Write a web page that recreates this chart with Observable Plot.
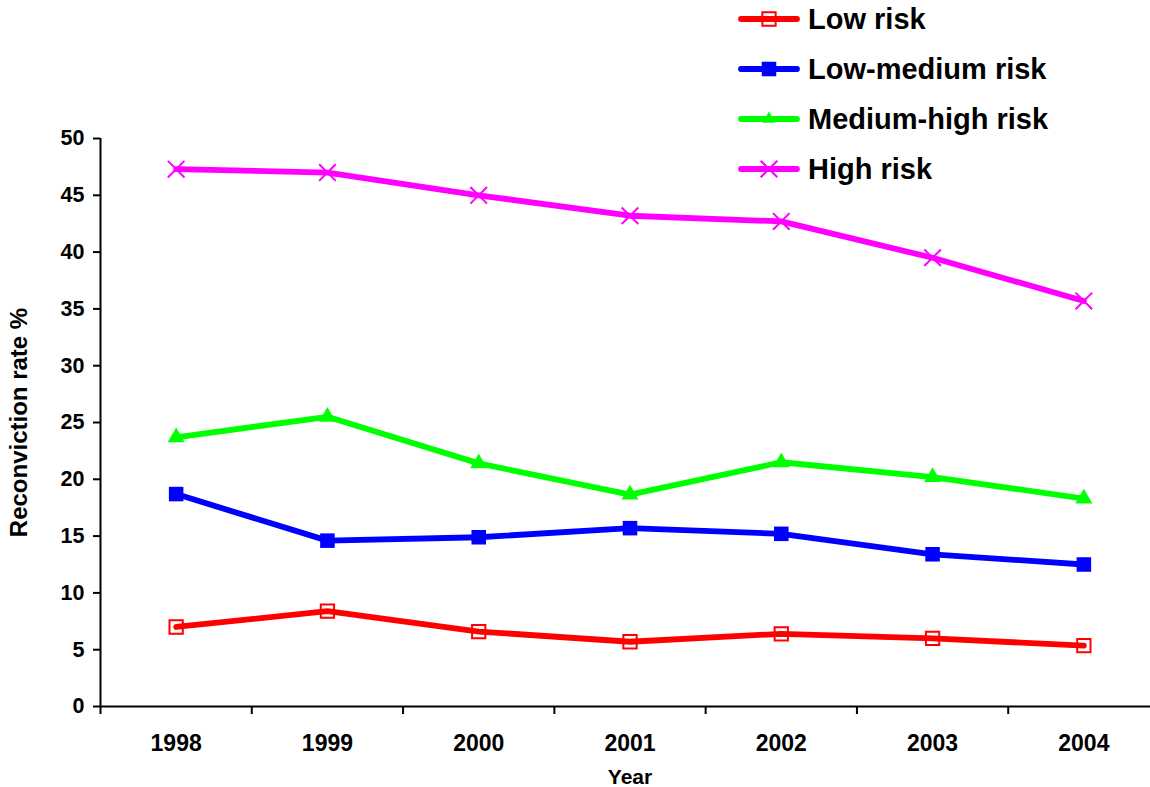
<!DOCTYPE html>
<html>
<head>
<meta charset="utf-8">
<script src="https://cdn.jsdelivr.net/npm/d3@7"></script>
<script src="https://cdn.jsdelivr.net/npm/@observablehq/plot@0.6"></script>
<style>
  html, body { margin: 0; padding: 0; background: #fff; overflow: hidden; }
  #wrap { position: relative; width: 1150px; height: 787px; overflow: hidden; }
  #wrap > svg { max-width: none !important; height: 787px !important; }
  #legend { position: absolute; left: 738px; top: 0; font-family: "Liberation Sans", Arial, sans-serif; font-weight: bold; font-size: 29px; color: #000; }
  .row { position: absolute; left: 0; height: 40px; display: flex; align-items: center; white-space: nowrap; }
  .row svg { display: block; margin-right: 8px; }
</style>
</head>
<body>
<div id="wrap"><div id="legend"></div></div>
<script>
// Reconviction rate (%) by risk band, 1998–2004
const years = [1998, 1999, 2000, 2001, 2002, 2003, 2004];
const lowRisk        = [7.0, 8.4, 6.6, 5.7, 6.4, 6.0, 5.35];
const lowMediumRisk  = [18.7, 14.6, 14.9, 15.7, 15.2, 13.4, 12.5];
const mediumHighRisk = [23.7, 25.5, 21.4, 18.65, 21.5, 20.2, 18.3];
const highRisk       = [47.3, 47.0, 45.0, 43.2, 42.7, 39.5, 35.7];

const seriesNames = ["Low risk", "Low-medium risk", "Medium-high risk", "High risk"];
const seriesValues = [lowRisk, lowMediumRisk, mediumHighRisk, highRisk];
const seriesColors = ["#ff0000", "#0000ff", "#00ff00", "#ff00ff"];

const yTicks = [0, 5, 10, 15, 20, 25, 30, 35, 40, 45, 50];
// category boundaries where the x-axis tick marks sit
const xBoundaries = [1997.5, 1998.5, 1999.5, 2000.5, 2001.5, 2002.5, 2003.5, 2004.5];

const rows = seriesNames.flatMap((name, i) =>
  years.map((year, j) => ({series: name, year, value: seriesValues[i][j]}))
);

// marker style per series
const markers = {
  "Low risk":         {symbol: "square",   r: 7.5, fill: "none",    stroke: "#ff0000", strokeWidth: 2},
  "Low-medium risk":  {symbol: "square",   r: 8.2, fill: "#0000ff", stroke: "none",    strokeWidth: 0},
  "Medium-high risk": {symbol: "triangle", r: 6.3, fill: "#00ff00", stroke: "none",    strokeWidth: 0},
  "High risk":        {symbol: "times",    r: 7.6, fill: "none",    stroke: "#ff00ff", strokeWidth: 2}
};

const font = "'Liberation Sans', Arial, sans-serif";

const marks = [];
seriesNames.forEach((name, i) => {
  const data = rows.filter(d => d.series === name);
  const m = markers[name];
  marks.push(Plot.line(data, {x: "year", y: "value", stroke: seriesColors[i], strokeWidth: 5.8, strokeLinejoin: "round", strokeLinecap: "round"}));
  marks.push(Plot.dot(data, {x: "year", y: "value", symbol: () => m.symbol, r: m.r, fill: m.fill, stroke: m.stroke, strokeWidth: m.strokeWidth}));
});

const chart = Plot.plot({
  width: 1160,
  height: 787,
  marginLeft: 100,
  marginRight: 1,
  marginTop: 138,
  marginBottom: 81,
  style: {fontFamily: font, background: "#fff", color: "#000", overflow: "visible", maxWidth: "none"},
  x: {domain: [1997.5, 2004.5]},
  y: {domain: [0, 50]},
  marks: [
    // y axis
    Plot.axisY({ticks: yTicks, tickSize: 7, tickPadding: 9, fontSize: 21.5, fontWeight: "bold",
      label: "Reconviction rate %", labelAnchor: "center", labelArrow: "none", labelOffset: 91}),
    Plot.ruleX([1997.5], {stroke: "#000", strokeWidth: 2}),
    // x axis: tick marks at category boundaries, labels at category centres
    Plot.axisX({ticks: xBoundaries, tickSize: 8, tickFormat: () => "", label: null, strokeWidth: 2}),
    Plot.axisX({ticks: years, tickSize: 0, tickPadding: 28, tickFormat: d => String(d), fontSize: 23, fontWeight: "bold", label: null}),
    Plot.ruleY([0], {stroke: "#000", strokeWidth: 2}),
    Plot.text(["Year"], {frameAnchor: "bottom", dy: 71, lineAnchor: "middle", fontSize: 21, fontWeight: "bold", fill: "#000"}),
    ...marks
  ]
});

// axis title and tick styling
d3.select(chart).selectAll("[aria-label='y-axis label'] text").attr("font-size", 24).attr("font-weight", "bold");
d3.select(chart).selectAll("[aria-label='y-axis label']").attr("font-size", 24).attr("font-weight", "bold");
d3.select(chart).selectAll("[aria-label='y-axis tick'], [aria-label='x-axis tick']").attr("stroke-width", 2);

document.getElementById("wrap").prepend(chart);

// legend
const symbolTypes = {square: d3.symbolSquare, triangle: d3.symbolTriangle2, times: d3.symbolTimes};
const legend = d3.select("#legend");
seriesNames.forEach((name, i) => {
  const m = markers[name];
  const row = legend.append("div").attr("class", "row").style("top", (i * 50 - 1) + "px");
  const svg = row.append("svg").attr("width", 62).attr("height", 40);
  svg.append("line").attr("x1", 3).attr("x2", 59).attr("y1", 20).attr("y2", 20)
    .attr("stroke", seriesColors[i]).attr("stroke-width", 5.8).attr("stroke-linecap", "round");
  svg.append("path")
    .attr("transform", "translate(31,20)")
    .attr("d", d3.symbol(symbolTypes[m.symbol], m.r * m.r * Math.PI)())
    .attr("fill", m.fill === "none" ? "#fff" : m.fill)
    .attr("fill-opacity", m.fill === "none" && m.symbol === "square" ? 0 : 1)
    .attr("stroke", m.stroke).attr("stroke-width", m.strokeWidth);
  row.append("span").text(name);
});
</script>
</body>
</html>
